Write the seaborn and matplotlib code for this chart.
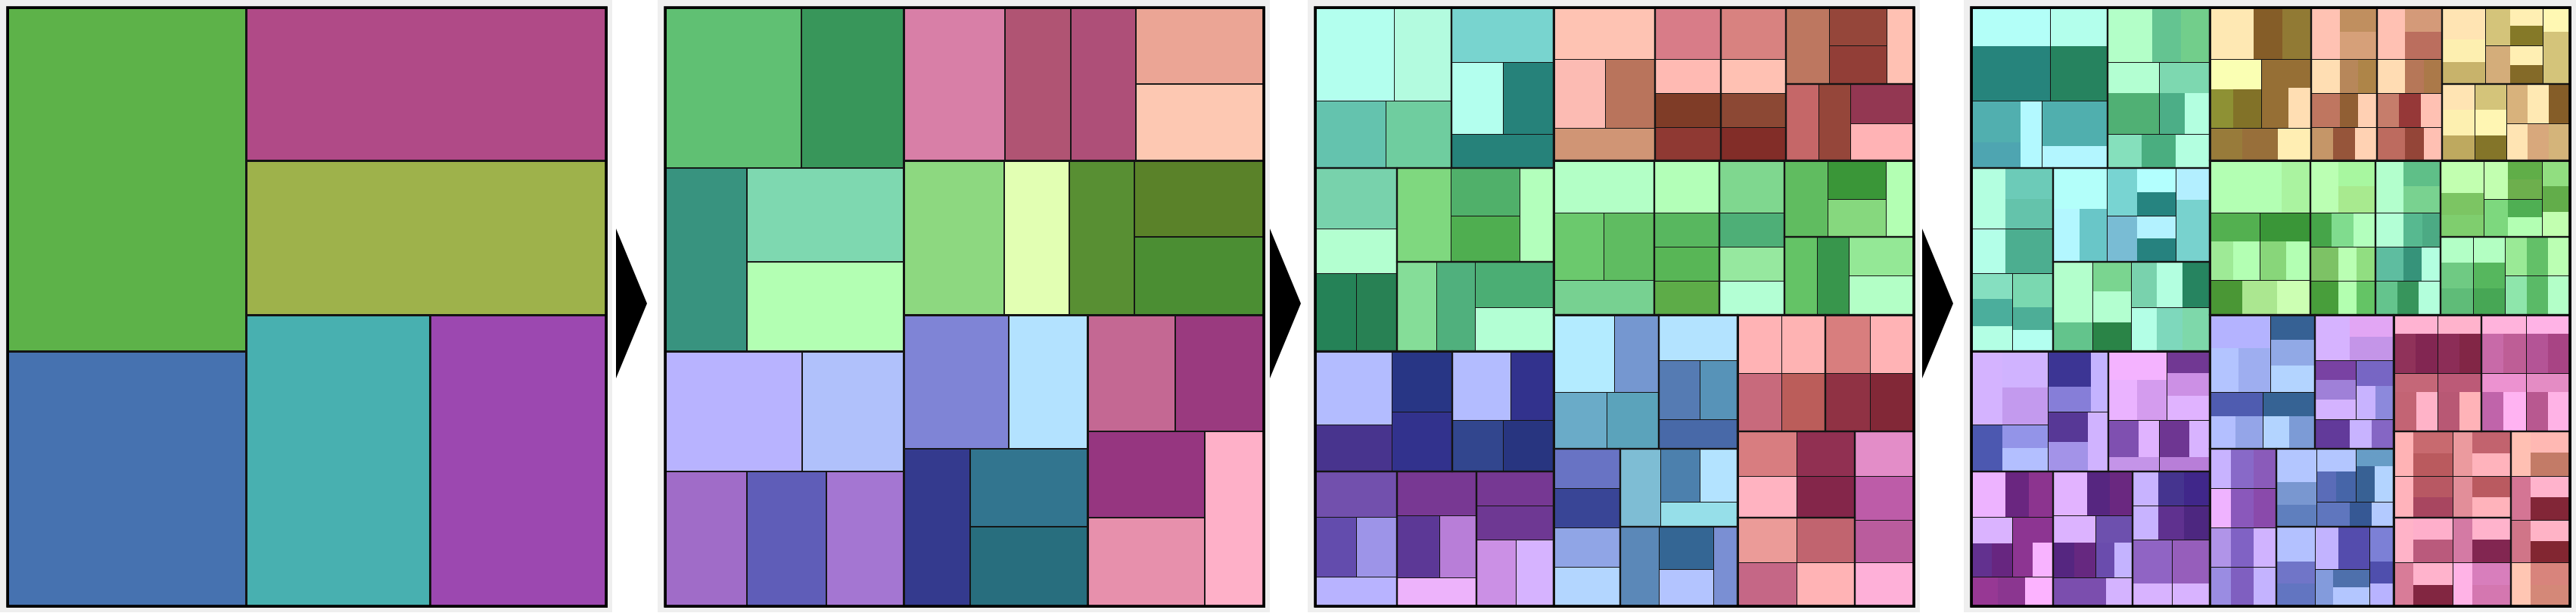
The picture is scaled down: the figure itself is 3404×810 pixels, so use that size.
import matplotlib
matplotlib.use("Agg")
import matplotlib.pyplot as plt
from matplotlib.patches import Rectangle, Polygon
import seaborn as sns

sns.set_theme(style="white")


# tiny helpers to write a slice-and-dice hierarchy
def X(*parts):  # children side by side, (weight, child)
    return ("x", parts)


def Y(*parts):  # children stacked top to bottom
    return ("y", parts)


def N(color, layout=None):  # a node with its own colour and children layout
    return (color, layout)


# ---------------- green block (level 1 top-left) ----------------
A1a = N('#b3ffee', Y((50, '#b3fff8'), (71, '#26847c')))
A1b = N('#b3fbdf', Y((50, '#b3ffec'), (71, '#26835f')))
A1c = N('#64c3ae', X((64, Y((55, '#51afaf'), (35, '#4ea5b1'))), (27, '#b3f9ff')))
A1d = N('#6fcd9f', Y((60, '#50afae'), (29, '#b3f6ff')))
A2a = N('#78d4cf', X((58, '#b3ffc8'), (38, '#64c491'), (38, '#72ce8b')))
A2b = N('#b3ffee', Y((41, '#b3ffd2'), (54, '#50b074')))
A2c = N('#26827a', Y((41, '#7dd8b0'), (54, X((34, '#4cae87'), (34, '#b3ffe0')))))
A2d = N('#26827a', X((45, '#85e0bc'), (45, '#4aae80'), (45, '#b3ffe0')))
A3a = N('#78d2ac', X((45, '#b3ffe0'), (63, Y((40, '#6ccbb8'), (39, '#64c3ab')))))
A3b = N('#b3ffd0', X((45, '#b3ffe8'), (63, '#4cae90')))
A3c = N('#258257', Y((34, '#85dfc0'), (35, '#4bae9c'), (33, '#b3ffe4')))
A3d = N('#288154', Y((44, '#7ad8b0'), (30, '#4dae97'), (28, '#b3fff0')))
A4a = N('#7fd87f', Y((54, '#b3fffa'), (70, X((35, '#b3f7ff'), (36, '#69c6c8')))))
A4b = N('#50b06a', X((40, '#78d4d2'), (51, Y((32, '#b3fffe'), (31, '#268480')))))
A4c = N('#4fae50', X((40, '#79bcd4'), (51, Y((29, '#b3f2ff'), (31, '#26827f')))))
A4d = N('#b3ffbc', Y((42, '#b3efff'), (82, '#78d2ce')))
A5a = N('#85dd98', Y((79, '#b3ffcc'), (38, '#63c48c')))
A5b = N('#50b07d', Y((39, '#7ad590'), (40, '#b3ffd0'), (38, '#2a8447')))
A5c = N('#4bae74', X((34, '#79d2ad'), (34, '#b3ffe0'), (36, '#268460')))
A5d = N('#b3ffd4', X((34, '#b3ffe6'), (34, '#7ed8bc'), (36, '#7ed8aa')))

A1 = N('#60c073', Y((123, X((104, A1a), (76, A1b))), (89, X((93, A1c), (87, A1d)))))
A2 = N('#38965a', Y((72, A2a), (95, X((68, A2b), (67, A2c))), (45, A2d)))
A3 = N('#38937f', Y((80, A3a), (59, A3b), (102, X((54, A3c), (54, A3d)))))
A4 = N('#7ed8b0', X((71, A4a), (91, Y((63, A4b), (61, A4c))), (45, A4d)))
A5 = N('#b3ffb3', X((52, A5a), (51, A5b), (104, Y((59, A5c), (58, A5d)))))
GREEN = N('#5db249', Y((212, X((180, A1), (135, A2))),
                       (241, X((108, A3), (207, Y((124, A4), (117, A5)))))))

# ---------------- blue block (level 1 bottom-left) ----------------
B1a = N('#b3bcff', X((41, '#d4b3ff'), (60, Y((47, '#d0b3ff'), (48, '#c39aee')))))
B1b = N('#48348e', X((41, '#4c58b0'), (60, Y((31, '#9394e8'), (31, '#b3bfff')))))
B1c = N('#283685', X((57, Y((47, '#3c3594'), (33, '#867ed8'))), (23, '#c4b3ff')))
B1d = N('#32328d', X((53, Y((40, '#573896'), (39, '#a393e8'))), (27, '#d0b3ff')))
B2a = N('#b3bcff', Y((38, '#f4b3ff'), (52, X((38, '#eab3ff'), (39, '#d49cee')))))
B2b = N('#32328d', Y((29, '#713893'), (30, '#cc90e5'), (31, '#e0b3ff')))
B2c = N('#32468e', Y((49, X((40, '#7f50b0'), (27, '#e0b3ff'))), (18, '#c494e8')))
B2d = N('#283580', Y((49, X((39, '#6e3692'), (27, '#d8b3ff'))), (18, '#b87ed8')))
B3a = N('#7250ad', X((45, '#edb3ff'), (31, '#6a2680'), (32, '#8c348f')))
B3b = N('#634cad', Y((35, '#dab3ff'), (44, X((27, '#62318f'), (27, '#672680')))))
B3c = N('#9d94e8', X((27, '#8d3592'), (27, Y((34, '#8d3592'), (45, '#f8b3ff')))))
B3d = N('#b8b3ff', X((35, '#973894'), (36, '#8b3690'), (37, '#fcb3ff')))
B4a = N('#783893', X((45, '#e2b3ff'), (30, '#562680'), (30, '#6a2880')))
B4b = N('#5c3896', Y((36, '#dcb3ff'), (46, X((28, '#552680'), (28, '#662880')))))
B4c = N('#b87ed8', Y((36, '#6d50ae'), (46, X((25, '#6a4cad'), (24, '#c4b3ff')))))
B4d = N('#edb3fb', X((70, '#7b4eae'), (35, '#d4b3ff')))
B5a = N('#763893', X((34, '#c8b3ff'), (34, '#45348f'), (34, '#40278a')))
B5b = N('#6e3893', X((34, '#c8b3ff'), (34, '#5f318f'), (34, '#4d2780')))
B5c = N('#cb90e5', Y((58, '#9064c4'), (30, '#d8b3ff')))
B5d = N('#d6b3ff', Y((58, '#965ebb'), (30, '#d8b3ff')))

B1 = N('#b8b3ff', X((101, Y((97, B1a), (62, B1b))), (80, Y((80, B1c), (79, B1d)))))
B2 = N('#b0c1fb', Y((91, X((77, B2a), (57, B2b))), (68, X((67, B2c), (67, B2d)))))
B3 = N('#a06cc8', Y((60, B3a), (79, X((54, B3b), (54, B3c))), (39, B3d)))
B4 = N('#5f5db8', Y((58, B4a), (82, X((56, B4b), (49, B4c))), (38, B4d)))
B5 = N('#a476d2', Y((45, B5a), (45, B5b), (88, X((52, B5c), (50, B5d)))))
BLUE = N('#4672b0', Y((159, X((181, B1), (134, B2))),
                      (178, X((108, B3), (105, B4), (102, B5)))))

# ---------------- magenta block (level 1 top-right) ----------------
C1a = N('#fec3b3', X((58, '#fee8b3'), (37, '#855d28'), (38, '#917a34')))
C1b = N('#fcbbb3', Y((40, '#faffb3'), (51, X((31, '#8e9134'), (37, '#827228')))))
C1c = N('#b9745c', Y((38, '#966f35'), (53, X((35, '#966f35'), (30, '#ffdeb3')))))
C1d = N('#d09575', X((43, '#987b3a'), (46, '#986f3a'), (44, '#ffeeb3')))
C2a = N('#d87c88', X((38, '#ffc2b3'), (49, Y((32, '#c08f5f'), (36, '#d6a079')))))
C2b = N('#ffbab3', X((38, '#ffdeb3'), (24, '#b7875a'), (25, '#ae8548')))
C2c = N('#7f3c27', X((38, '#bf7660'), (24, '#915f34'), (25, '#ffd0b3')))
C2d = N('#8f3933', X((29, '#c59668'), (29, '#96553a'), (29, '#ffd2b3')))
C3a = N('#d88280', X((37, '#ffc1b3'), (49, Y((32, '#d49a79'), (36, '#bb6e5e')))))
C3b = N('#ffc1b3', X((37, '#ffdcb3'), (25, '#b67758'), (24, '#ab7949')))
C3c = N('#8c4834', X((29, '#c67d6b'), (29, '#963838'), (28, '#ffc1b3')))
C3d = N('#822d28', X((37, '#bd6b5f'), (25, '#944538'), (24, '#ffc0b3')))
C4a = N('#bd7760', Y((41, '#ffe4b3'), (29, '#fdefb0'), (29, '#c8b36b')))
C4b = N('#95463a', X((33, '#d4c47a'), (43, Y((23, '#ffefb3'), (25, '#857928')))))
C4c = N('#923e37', X((33, '#d4ad7a'), (43, Y((26, '#ffefb3'), (25, '#846a28')))))
C4d = N('#ffc1b3', Y((32, '#fff8b3'), (69, '#d4c47a')))
C5a = N('#c56768', Y((34, '#ffe4b3'), (34, '#fdf0b0'), (33, '#bea95f')))
C5b = N('#95463a', Y((34, '#d4c47a'), (34, '#fff6b3'), (33, '#847529')))
C5c = N('#933752', X((28, '#d8b27c'), (28, '#ffe9b3'), (28, '#855d28')))
C5d = N('#ffb3b5', X((28, '#ffe4b3'), (28, '#d8a87c'), (28, '#d4b47a')))

C1 = N('#d87fa7', Y((68, C1a), (91, X((68, C1b), (65, C1c))), (43, C1d)))
C2 = N('#b05473', Y((68, C2a), (45, C2b), (45, C2c), (44, C2d)))
C3 = N('#ae4f78', Y((68, C3a), (45, C3b), (45, C3c), (44, C3d)))
C4 = N('#eba595', X((57, C4a), (76, Y((50, C4b), (51, C4c))), (36, C4d)))
C5 = N('#fdc8b2', X((43, C5a), (42, C5b), (84, Y((52, C5c), (49, C5d)))))
MAGENTA = N('#b04a87', X((133, C1), (87, C2), (86, C3), (169, Y((101, C4), (101, C5)))))

# ---------------- olive block (level 1 middle-right) ----------------
D1a = N('#b3ffc6', X((94, '#b3ffb3'), (38, '#aaf3a0')))
D1b = N('#6bc96d', Y((38, '#53b050'), (51, X((31, '#9eea96'), (35, '#b3ffb3')))))
D1c = N('#5fbc61', Y((38, '#3a9638'), (51, X((34, '#88d67a'), (32, '#b3ffb3')))))
D1d = N('#77d191', X((43, '#4a9735'), (45, '#abe790'), (44, '#ccffb3')))
D2a = N('#b3ffb8', X((37, '#bbffb3'), (49, Y((33, '#a8f7a0'), (34, '#a8ea8f')))))
D2b = N('#58b75f', X((28, '#46a549'), (29, '#80dc8e'), (29, '#b3ffbd')))
D2c = N('#58b656', X((37, '#7dc265'), (24, '#baffb3'), (25, '#91de81')))
D2d = N('#5dac48', X((37, '#489e3b'), (24, '#b3ffb0'), (25, '#64c465')))
D3a = N('#7fd78f', X((37, '#b3ffcd'), (49, Y((33, '#5fbf88'), (34, '#79d290')))))
D3b = N('#4eaf77', X((37, '#b3ffd6'), (25, '#57b990'), (24, '#4caa84')))
D3c = N('#96e89f', X((37, '#5ebda0'), (24, '#36937a'), (25, '#b3ffe0')))
D3d = N('#b3ffd4', X((29, '#64c48d'), (28, '#37955c'), (29, '#b3ffdc')))
D4a = N('#60bc60', Y((43, '#c2ffb0'), (29, '#7cc563'), (29, '#7fce6e')))
D4b = N('#3a9638', X((32, '#c2ffb0'), (44, Y((24, '#60ae48'), (26, '#6daf4d')))))
D4c = N('#86d87e', X((32, '#7dd87e'), (44, Y((24, '#4faf53'), (26, '#b3ffb3')))))
D4d = N('#b3ffb3', Y((33, '#91de80'), (34, '#62ad4a'), (33, '#c2ffb0')))
D5a = N('#64c366', Y((34, '#b3ffc6'), (34, '#6fca83'), (34, '#5fbc78')))
D5b = N('#38964c', Y((34, '#b3ffc2'), (34, '#56b75e'), (34, '#47a755')))
D5c = N('#94e896', X((28, '#9aea96'), (28, '#63c068'), (28, '#bbffb3')))
D5d = N('#b3ffc6', X((28, '#8ee6ab'), (28, '#5aba67'), (28, '#b3ffc8')))

D1 = N('#8dd880', Y((69, D1a), (89, X((66, D1b), (66, D1c))), (45, D1d)))
D2 = N('#e2ffb3', Y((69, D2a), (45, D2b), (45, D2c), (44, D2d)))
D3 = N('#588f33', Y((69, D3a), (45, D3b), (45, D3c), (44, D3d)))
D4 = N('#5a8229', X((57, D4a), (77, Y((51, D4b), (50, D4c))), (37, D4d)))
D5 = N('#4b8e33', X((43, D5a), (42, D5b), (86, Y((51, D5c), (51, D5d)))))
OLIVE = N('#9eb24b', X((132, D1), (86, D2), (86, D3), (171, Y((101, D4), (102, D5)))))

# ---------------- teal block (level 1 bottom-middle) ----------------
E1a = N('#b3ebff', Y((44, '#b4b3ff'), (58, X((38, '#b3c4ff'), (42, '#9eaef0')))))
E1b = N('#7597d0', Y((33, '#366194'), (34, '#91a9e6'), (34, '#b3d4ff')))
E1c = N('#6aabc8', Y((32, '#4f5cb0'), (43, X((33, '#b3bfff'), (35, '#94a5e8')))))
E1d = N('#5ba3bb', Y((32, '#366394'), (43, X((34, '#b3d4ff'), (34, '#7c9bd6')))))
E2a = N('#b3e3ff', X((46, '#d6b3ff'), (58, Y((29, '#e2a6f4'), (30, '#c495e8')))))
E2b = N('#557bb3', Y((26, '#7942a3'), (26, '#9f80d8'), (26, '#d4b3ff')))
E2c = N('#5793b8', Y((34, '#7766c4'), (44, X((26, '#c8b3ff'), (24, '#8c89dc')))))
E2d = N('#4869a8', X((46, '#623a9a'), (29, '#c8b3ff'), (29, '#8566c4')))
E3a = N('#6873c4', X((28, '#c8b3ff'), (30, '#8869c8'), (29, '#8a5bba')))
E3b = N('#394596', X((28, '#efb3ff'), (30, '#8a58bb'), (29, '#8a4aab')))
E3c = N('#90a5e6', X((28, '#b094e8'), (30, '#8062c4'), (29, '#d0b3ff')))
E3d = N('#b3d6ff', X((28, '#9a8ce2'), (30, '#7f5fc0'), (29, '#c4b3ff')))
E4a = N('#7ebdd4', Y((45, '#b3c6ff'), (30, '#7997d0'), (29, '#5f7fbe')))
E4b = N('#4c80ad', Y((30, '#b3c6ff'), (40, X((26, '#5a6cb8'), (26, '#4665a8')))))
E4c = N('#b3e3ff', Y((23, '#679dc6'), (47, X((25, '#386194'), (25, '#b3d4ff')))))
E4d = N('#96dfe9', X((44, '#5f76be'), (29, '#365894'), (29, '#b3caff')))
E5a = N('#5b88b8', Y((45, '#b3c1ff'), (29, '#7075c8'), (29, '#6275c1')))
E5b = N('#346694', X((31, '#c2b3ff'), (41, '#544cad')))
E5c = N('#b3c4ff', X((24, '#839bdc'), (48, Y((24, '#4e70ac'), (24, '#b3c6ff')))))
E5d = N('#7a8fd3', Y((45, '#7c80d6'), (29, '#4f4fad'), (29, '#b8b3ff')))

E1 = N('#7f84d6', Y((102, X((80, E1a), (58, E1b))), (75, X((70, E1c), (68, E1d)))))
E2 = N('#b3e2ff', Y((60, E2a), (78, X((54, E2b), (50, E2c))), (39, E2d)))
E3 = N('#343a8e', Y((52, E3a), (52, E3b), (52, E3c), (52, E3d)))
E4 = N('#32758f', X((53, E4a), (102, Y((70, X((52, E4b), (50, E4c))), (33, E4d)))))
E5 = N('#286e7e', X((51, E5a), (72, Y((56, E5b), (49, E5c))), (32, E5d)))
TEAL = N('#48b0b0', Y((177, X((138, E1), (104, E2))),
                      (208, X((87, E3), (155, Y((103, E4), (105, E5)))))))

# ---------------- purple block (level 1 bottom-right) ----------------
F1a = N('#ffb3b5', Y((25, '#ffb3d2'), (52, X((29, '#90325a'), (29, '#822652')))))
F1b = N('#feb3b3', Y((25, '#ffb3cc'), (52, X((29, '#8c2d57'), (29, '#822646')))))
F1c = N('#c86a7c', Y((25, '#c56778'), (52, X((30, '#c36474'), (28, '#ffb3c8')))))
F1d = N('#bb5d5a', Y((25, '#bc5a77'), (52, X((29, '#b85874'), (29, '#ffb3b8')))))
F2a = N('#d87e7e', Y((25, '#ffb3dc'), (52, X((29, '#c86aa8'), (30, '#be5e96')))))
F2b = N('#ffb3b5', Y((25, '#ffb3e6'), (52, X((29, '#b45496'), (29, '#a84484')))))
F2c = N('#903244', Y((25, '#ec92d0'), (52, X((29, '#c064aa'), (30, '#ffb3f2')))))
F2d = N('#822837', Y((25, '#e48cc4'), (52, X((29, '#b85890'), (29, '#ffb3e6')))))
F3a = N('#d87d80', X((26, '#ffb3b5'), (52, Y((29, '#c86a6f'), (30, '#ba5a5e')))))
F3b = N('#913052', X((26, '#eb9a9e'), (51, Y((29, '#c2636e'), (30, '#ffb3bc')))))
F3c = N('#ffb3c1', X((26, '#ffb3bb'), (52, Y((28, '#b85863'), (27, '#a84660')))))
F3d = N('#84264a', X((26, '#e28e99'), (51, Y((28, '#ba5a60'), (27, '#ffb3bb')))))
F4a = N('#eb9b98', X((26, '#ffb3c8'), (52, Y((29, '#feafcb'), (29, '#ba5a7c')))))
F4b = N('#c1646f', X((26, '#d47aa4'), (51, Y((29, '#ffb3cc'), (29, '#822651')))))
F4c = N('#c56786', X((26, '#d87c98'), (52, Y((29, '#ffb3cc'), (27, '#822641')))))
F4d = N('#ffb3b5', X((26, '#ffb3e6'), (51, Y((29, '#d87ebc'), (27, '#d477b0')))))
F5a = N('#e38dc8', X((26, '#ffc0b3'), (52, Y((28, '#ffb8b3'), (30, '#c37b67')))))
F5b = N('#bd5ca8', X((26, '#d47594'), (52, Y((28, '#ffb3cc'), (30, '#822637')))))
F5c = N('#ba5c9d', X((26, '#d07588'), (52, Y((28, '#ffb3c6'), (28, '#822631')))))
F5d = N('#feb0d8', X((26, '#ffc6b3'), (52, Y((29, '#d8847c'), (27, '#d48878')))))

F1 = N('#c46893', Y((77, X((58, F1a), (58, F1b))), (77, X((58, F1c), (58, F1d)))))
F2 = N('#9a3a7f', Y((77, X((59, F2a), (58, F2b))), (77, X((59, F2c), (58, F2d)))))
F3 = N('#963680', X((78, Y((59, F3a), (55, F3c))), (77, Y((59, F3b), (55, F3d)))))
F4 = N('#e790ac', X((78, Y((59, F4a), (58, F4c))), (77, Y((59, F4b), (58, F4d)))))
F5 = N('#feb0c8', Y((59, F5a), (58, F5b), (56, F5c), (58, F5d)))
PURPLE = N('#9c48b0', Y((154, X((116, F1), (117, F2))),
                        (231, X((155, Y((114, F3), (117, F4))), (78, F5)))))

# level 1 arrangement
ROOT = X((315, Y((453, GREEN), (337, BLUE))),
         (475, Y((202, MAGENTA), (203, OLIVE), (385, X((242, TEAL), (233, PURPLE))))))

PANEL_DEPTHS = [1, 2, 3, 4]


def is_layout(item):
    return isinstance(item, tuple) and item[0] in ("x", "y")


def leaves(item, box):
    if not is_layout(item):
        yield item, box
        return
    d, parts = item
    x, y, w, h = box
    total = float(sum(p[0] for p in parts))
    pos = 0.0
    for wt, child in parts:
        if d == "x":
            b = (x + w * pos / total, y, w * wt / total, h)
        else:
            b = (x, y + h * pos / total, w, h * wt / total)
        pos += wt
        yield from leaves(child, b)


def collect(item, box, depth, panel, fills, edges):
    if isinstance(item, str):
        color, layout = item, None
    else:
        color, layout = item
    if depth == panel or layout is None:
        fills.append((box, color, depth <= 3))
    else:
        for child, b in leaves(layout, box):
            collect(child, b, depth + 1, panel, fills, edges)
    if depth <= min(panel, 3):
        edges.append((box, depth))


# line widths in pixels, per panel and depth
LW = {1: {1: 3.0},
      2: {1: 3.0, 2: 1.6},
      3: {1: 2.9, 2: 2.2, 3: 1.0},
      4: {1: 2.9, 2: 2.2, 3: 1.0}}

W, H = 3405, 810
PX = 72.0 / 100  # points per pixel at dpi 100
panel_x = [10, 879, 1738, 2605]
size = 791
top = 10

fig = plt.figure(figsize=(W / 100, H / 100), dpi=100, facecolor='white')

# light grey frames and arrows on a full-figure overlay
bg = fig.add_axes([0, 0, 1, 1], zorder=0)
bg.set_xlim(0, W)
bg.set_ylim(H, 0)
bg.axis('off')
for x0 in panel_x:
    bg.add_patch(Rectangle((max(x0 - 10, 0), 0), size + 18, 809,
                           facecolor='#efefef', edgecolor='none'))
for xa in [814, 1678, 2540]:
    bg.add_patch(Polygon([(xa, 302), (xa, 500), (xa + 41, 401)], closed=True,
                         facecolor='black', edgecolor='none'))

for x0, k in zip(panel_x, PANEL_DEPTHS):
    ax = fig.add_axes([x0 / W, 1 - (top + size) / H, size / W, size / H], zorder=2)
    ax.set_xlim(0, 790)
    ax.set_ylim(790, 0)
    ax.axis('off')
    fills, edges = [], []
    for child, b in leaves(ROOT, (0, 0, 790, 790)):
        collect(child, b, 1, k, fills, edges)
    for (x, y, w, h), c, _ in fills:
        ax.add_patch(Rectangle((x, y), w, h, facecolor=c, edgecolor='none',
                               antialiased=False))
    for (x, y, w, h), d in sorted(edges, key=lambda e: -e[1]):
        ax.add_patch(Rectangle((x, y), w, h, fill=False, edgecolor='#141414',
                               linewidth=LW[k][d] * PX, clip_on=False))
    ax.add_patch(Rectangle((0, 0), 790, 790, fill=False, edgecolor='black',
                           linewidth=3.6 * PX, clip_on=False))

fig.savefig('out.png', dpi=100, facecolor='white')
